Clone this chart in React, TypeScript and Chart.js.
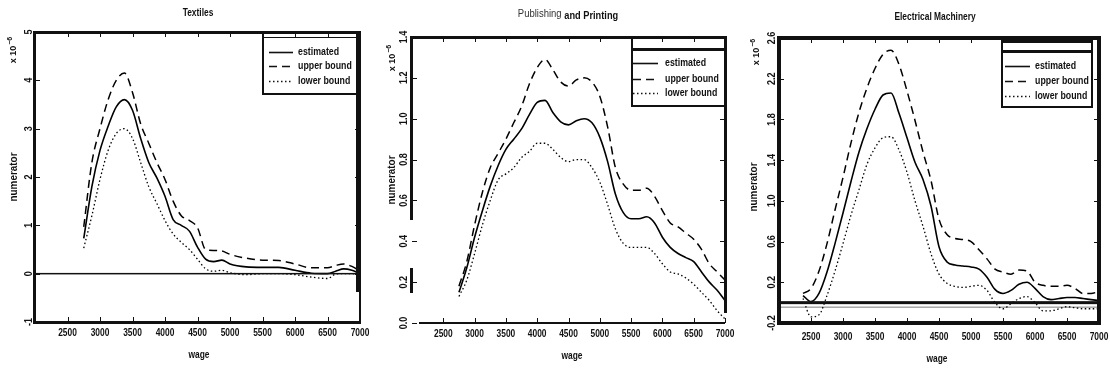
import React, { useEffect, useRef } from "react";
import { Chart, registerables } from "chart.js";

Chart.register(...registerables);

// ---------------- DATA ----------------
// Textiles
const texWage = [2750, 2875, 3000, 3125, 3250, 3375, 3500, 3625, 3750, 3875, 4000, 4125, 4250, 4375, 4500, 4625, 4750, 4875, 5000, 5250, 5500, 5750, 6000, 6250, 6500, 6625, 6750, 6875, 7000];
const texEstimated = [0.73, 1.8, 2.55, 3.05, 3.45, 3.6, 3.38, 2.8, 2.3, 1.98, 1.6, 1.12, 1.0, 0.88, 0.55, 0.3, 0.25, 0.28, 0.2, 0.14, 0.13, 0.13, 0.07, 0.01, 0.0, 0.05, 0.1, 0.07, 0.0];
const texUpper = [0.97, 2.3, 3.0, 3.6, 4.0, 4.15, 3.75, 3.1, 2.7, 2.3, 1.95, 1.5, 1.2, 1.1, 0.95, 0.5, 0.48, 0.47, 0.4, 0.32, 0.28, 0.27, 0.2, 0.12, 0.12, 0.17, 0.2, 0.15, 0.05];
const texLower = [0.53, 1.2, 1.95, 2.55, 2.9, 3.0, 2.8, 2.3, 1.8, 1.45, 1.1, 0.82, 0.65, 0.5, 0.3, 0.1, 0.05, 0.07, 0.02, -0.02, 0.0, 0.0, -0.02, -0.07, -0.1, -0.01, 0.0, 0.0, -0.03];

// Publishing and Printing
const pubWage = [2750, 2875, 3000, 3125, 3250, 3375, 3500, 3625, 3750, 3875, 4000, 4125, 4250, 4375, 4500, 4625, 4750, 4875, 5000, 5125, 5250, 5375, 5500, 5625, 5750, 5875, 6000, 6125, 6250, 6375, 6500, 6625, 6750, 6875, 7000];
const pubEstimated = [0.15, 0.27, 0.42, 0.55, 0.67, 0.77, 0.85, 0.9, 0.95, 1.02, 1.08, 1.09, 1.03, 0.985, 0.97, 0.99, 1.0, 0.98, 0.91, 0.79, 0.63, 0.54, 0.51, 0.51, 0.52, 0.49, 0.42, 0.37, 0.34, 0.32, 0.3, 0.25, 0.2, 0.16, 0.11];
const pubUpper = [0.18, 0.3, 0.48, 0.64, 0.76, 0.83, 0.9, 0.98, 1.06, 1.17, 1.25, 1.29, 1.24, 1.18, 1.16, 1.19, 1.2, 1.18, 1.11, 0.96, 0.76, 0.68, 0.65, 0.65, 0.66, 0.62, 0.55, 0.49, 0.47, 0.44, 0.41, 0.36, 0.29, 0.25, 0.21];
const pubLower = [0.13, 0.21, 0.34, 0.48, 0.6, 0.7, 0.73, 0.76, 0.81, 0.84, 0.88, 0.88, 0.85, 0.81, 0.79, 0.8, 0.8, 0.76, 0.69, 0.58, 0.46, 0.39, 0.37, 0.37, 0.37, 0.34, 0.29, 0.25, 0.24, 0.22, 0.19, 0.15, 0.11, 0.06, 0.02];

// Electrical Machinery
const elecWage = [2375, 2500, 2625, 2750, 2875, 3000, 3125, 3250, 3375, 3500, 3625, 3750, 3875, 4000, 4125, 4250, 4375, 4500, 4625, 4750, 4875, 5000, 5125, 5250, 5375, 5500, 5625, 5750, 5875, 6000, 6125, 6250, 6375, 6500, 6625, 6750, 6875, 7000];
const elecEstimated = [0.07, 0.01, 0.09, 0.3, 0.58, 0.88, 1.19, 1.48, 1.71, 1.9, 2.04, 2.06, 1.86, 1.62, 1.38, 1.21, 0.95, 0.55, 0.4, 0.37, 0.36, 0.35, 0.33, 0.25, 0.13, 0.09, 0.12, 0.18, 0.2, 0.14, 0.06, 0.03, 0.04, 0.05, 0.05, 0.04, 0.03, 0.02];
const elecUpper = [0.09, 0.14, 0.31, 0.58, 0.91, 1.23, 1.57, 1.87, 2.11, 2.3, 2.44, 2.48, 2.34, 2.08, 1.79, 1.48, 1.2, 0.82, 0.67, 0.63, 0.62, 0.6, 0.52, 0.43, 0.33, 0.3, 0.28, 0.32, 0.31, 0.2, 0.17, 0.16, 0.16, 0.17, 0.14, 0.09, 0.09, 0.11];
const elecLower = [0.04, -0.14, -0.12, 0.07, 0.31, 0.58, 0.86, 1.11, 1.36, 1.52, 1.62, 1.63, 1.5, 1.28, 1.0, 0.75, 0.48, 0.28, 0.19, 0.16, 0.15, 0.16, 0.17, 0.12, 0.0, -0.06, -0.01, 0.04, 0.06, 0.0, -0.08, -0.08, -0.06, -0.04, -0.05, -0.06, -0.06, -0.06];

// Ticks and labels
const wageTicks = [2500, 3000, 3500, 4000, 4500, 5000, 5500, 6000, 6500, 7000];
const texYTicks = [-1, 0, 1, 2, 3, 4, 5];
const texYTickLabels = ["-1", "0", "1", "2", "3", "4", "5"];
const pubYTicks = [0, 0.2, 0.4, 0.6, 0.8, 1.0, 1.2, 1.4];
const pubYTickLabels = ["0.0", "0.2", "0.4", "0.6", "0.8", "1.0", "1.2", "1.4"];
const elecYTicks = [-0.2, 0.2, 0.6, 1.0, 1.4, 1.8, 2.2, 2.6];
const elecYTickLabels = ["-0.2", "0.2", "0.6", "1.0", "1.4", "1.8", "2.2", "2.6"];
const legendLabels = ["estimated", "upper bound", "lower bound"];
const xAxisTitle = "wage";
const yAxisTitle = "numerator";
const exponentBase = "x 10";
const exponentPower = "\u22126";

// ---------------- STYLE ----------------
const FF = "'Liberation Sans', Arial, sans-serif";
const SQUEEZE = 0.84;
const INK = "#111";
const SERIES_STYLE = [
  { width: 1.6, dash: [] as number[] },
  { width: 1.5, dash: [8, 5] },
  { width: 1.3, dash: [1.5, 2.5] },
];

type Area = { l: number; r: number; t: number; b: number };
type Layout = {
  area: Area;
  titleX: number;
  titleY: number;
  yTickX: number;
  xTickY: number;
  wageX: number;
  wageY: number;
  numX: number;
  numY: number;
  expX: number;
  expY: number;
  legend: {
    x0: number; x1: number; y0: number; y1: number; boxTop: number; topW: number;
    stripTopW: number; rightW: number; rows: number[]; sx0: number; sx1: number; tx: number;
  };
  zero: number;
  zeroShadow: boolean;
  frame: (ctx: CanvasRenderingContext2D, ca: any) => void;
};

type Panel = {
  id: string;
  title: string[];
  wage: number[];
  series: number[][];
  yMin: number;
  yMax: number;
  yTicks: number[];
  yTickLabels: string[];
  layout: Layout;
};

const PANELS: Panel[] = [
  {
    id: "tex",
    title: ["Textiles"],
    wage: texWage,
    series: [texEstimated, texUpper, texLower],
    yMin: -1,
    yMax: 5,
    yTicks: texYTicks,
    yTickLabels: texYTickLabels,
    layout: {
      area: { l: 35, r: 360, t: 32, b: 322 },
      titleX: 198, titleY: 13,
      yTickX: 29, xTickY: 333,
      wageX: 199, wageY: 355,
      numX: 14, numY: 177,
      expX: 14, expY: 50,
      legend: { x0: 263, x1: 360, y0: 32, y1: 95, boxTop: 37, topW: 1, stripTopW: 0, rightW: 0, rows: [52, 66, 81], sx0: 269, sx1: 293, tx: 298 },
      zero: 1.5,
      zeroShadow: false,
      frame: (ctx, ca) => {
        const w = ca.right - ca.left, h = ca.bottom - ca.top;
        ctx.fillRect(ca.left - 1, ca.top - 1, w + 2, 3);
        ctx.fillRect(ca.left - 2, ca.top - 1, 3, h + 3);
        ctx.fillRect(ca.left - 2, ca.bottom - 1, w + 3, 3);
        ctx.fillRect(ca.right - 1, ca.top - 1, 2, h + 2);
        ctx.fillRect(ca.right - 4, ca.top - 1, 5, h * 0.9);
      },
    },
  },
  {
    id: "pub",
    title: ["Publishing", "and Printing"],
    wage: pubWage,
    series: [pubEstimated, pubUpper, pubLower],
    yMin: 0,
    yMax: 1.4,
    yTicks: pubYTicks,
    yTickLabels: pubYTickLabels,
    layout: {
      area: { l: 42, r: 355, t: 37, b: 323 },
      titleX: 198, titleY: 15,
      yTickX: 34, xTickY: 334,
      wageX: 202, wageY: 356,
      numX: 22, numY: 180,
      expX: 23, expY: 58,
      legend: { x0: 262, x1: 355, y0: 37, y1: 107, boxTop: 48, topW: 3, stripTopW: 0, rightW: 0, rows: [63, 79, 93], sx0: 263, sx1: 288, tx: 295 },
      zero: 0,
      zeroShadow: false,
      frame: (ctx, ca) => {
        const w = ca.right - ca.left;
        ctx.fillRect(ca.left - 1, ca.top - 1, w + 3, 3);
        ctx.fillRect(ca.left - 2, ca.top - 1, 3, 184);
        ctx.fillRect(ca.left - 2, ca.top + 231, 3, 25);
        ctx.fillRect(ca.right - 1, ca.top - 1, 3, 277);
        ctx.fillRect(ca.left + 7, ca.bottom - 1, w - 7, 2);
      },
    },
  },
  {
    id: "elec",
    title: ["Electrical Machinery"],
    wage: elecWage,
    series: [elecEstimated, elecUpper, elecLower],
    yMin: -0.2,
    yMax: 2.6,
    yTicks: elecYTicks,
    yTickLabels: elecYTickLabels,
    layout: {
      area: { l: 39, r: 359, t: 38, b: 323 },
      titleX: 195, titleY: 17,
      yTickX: 32, xTickY: 337,
      wageX: 197, wageY: 359,
      numX: 14, numY: 187,
      expX: 17, expY: 52,
      legend: { x0: 262, x1: 353, y0: 40, y1: 108, boxTop: 50, topW: 3, stripTopW: 3, rightW: 2, rows: [66, 81, 96], sx0: 265, sx1: 290, tx: 295 },
      zero: 3,
      zeroShadow: true,
      frame: (ctx, ca) => {
        const w = ca.right - ca.left, h = ca.bottom - ca.top;
        ctx.fillRect(ca.left - 2, ca.top - 2, w + 4, 4);
        ctx.fillRect(ca.left - 2, ca.top - 2, 4, h + 4);
        ctx.fillRect(ca.right - 2, ca.top - 2, 4, h + 4);
        ctx.fillRect(ca.left - 2, ca.bottom - 2, w + 4, 4);
      },
    },
  },
];

// draws condensed text: horizontal squeeze (along the text direction)
function text(
  ctx: CanvasRenderingContext2D,
  s: string,
  x: number,
  y: number,
  align: CanvasTextAlign,
  rotated = false,
  squeeze = SQUEEZE
) {
  ctx.save();
  ctx.translate(x, y);
  if (rotated) ctx.rotate(-Math.PI / 2);
  ctx.scale(squeeze, 1);
  ctx.textAlign = align;
  ctx.textBaseline = "middle";
  ctx.fillText(s, 0, 0);
  ctx.restore();
}

function drawDeco(chart: any, p: Panel) {
  const ctx: CanvasRenderingContext2D = chart.ctx;
  const ca = chart.chartArea;
  const xs = chart.scales.x;
  const ys = chart.scales.y;
  const L = p.layout;
  const lg = L.legend;
  ctx.save();
  ctx.fillStyle = INK;
  ctx.strokeStyle = INK;

  // zero line
  if (L.zero > 0) {
    const y0 = ys.getPixelForValue(0);
    ctx.fillRect(ca.left, y0 - L.zero / 2, ca.right - ca.left, L.zero);
    if (L.zeroShadow) {
      ctx.globalAlpha = 0.55;
      ctx.fillRect(ca.left, y0 + 4, ca.right - ca.left, 1);
      ctx.globalAlpha = 1;
    }
  }

  // inward tick marks
  ctx.lineWidth = 1;
  ctx.beginPath();
  for (const v of wageTicks) {
    const px = Math.round(xs.getPixelForValue(v)) + 0.5;
    ctx.moveTo(px, ca.bottom);
    ctx.lineTo(px, ca.bottom - 5);
    ctx.moveTo(px, ca.top);
    ctx.lineTo(px, ca.top + 5);
  }
  for (const v of p.yTicks) {
    const py = Math.round(ys.getPixelForValue(v)) + 0.5;
    ctx.moveTo(ca.left, py);
    ctx.lineTo(ca.left + 5, py);
    ctx.moveTo(ca.right, py);
    ctx.lineTo(ca.right - 5, py);
  }
  ctx.stroke();

  // legend box
  ctx.fillStyle = "#fff";
  ctx.fillRect(lg.x0, lg.boxTop, lg.x1 - lg.x0, lg.y1 - lg.boxTop);
  ctx.fillStyle = INK;
  ctx.fillRect(lg.x0 - 1, lg.y0, 2, lg.y1 - lg.y0);
  ctx.fillRect(lg.x0 - 1, lg.y1 - 2, lg.x1 - lg.x0 + 1, 2);
  ctx.fillRect(lg.x0 - 1, lg.boxTop, lg.x1 - lg.x0 + 1, lg.topW);
  if (lg.stripTopW) ctx.fillRect(lg.x0 - 1, lg.y0, lg.x1 - lg.x0 + 1, lg.stripTopW);
  if (lg.rightW) ctx.fillRect(lg.x1 - lg.rightW, lg.y0, lg.rightW, lg.y1 - lg.y0);

  ctx.font = `bold 10px ${FF}`;
  legendLabels.forEach((label, i) => {
    const st = SERIES_STYLE[i];
    const ry = lg.rows[i] + 0.5;
    ctx.save();
    ctx.lineWidth = st.width;
    ctx.setLineDash(st.dash);
    ctx.beginPath();
    ctx.moveTo(lg.sx0, ry);
    ctx.lineTo(lg.sx1, ry);
    ctx.stroke();
    ctx.restore();
    text(ctx, label, lg.tx, lg.rows[i], "left", false, 0.88);
  });

  // frame
  L.frame(ctx, ca);

  // title
  if (p.title.length === 1) {
    ctx.font = `bold 10px ${FF}`;
    text(ctx, p.title[0], L.titleX, L.titleY, "center");
  } else {
    const f1 = `10px ${FF}`;
    const f2 = `bold 11px ${FF}`;
    ctx.font = f1;
    const w1 = ctx.measureText(p.title[0] + " ").width * 0.95;
    ctx.font = f2;
    const w2 = ctx.measureText(p.title[1]).width * SQUEEZE;
    const x0 = L.titleX - (w1 + w2) / 2;
    ctx.font = f1;
    ctx.fillStyle = "#333";
    text(ctx, p.title[0], x0, L.titleY - 1, "left", false, 0.95);
    ctx.fillStyle = INK;
    ctx.font = f2;
    text(ctx, p.title[1], x0 + w1, L.titleY + 1, "left");
  }

  // x tick labels
  ctx.font = `bold 10px ${FF}`;
  for (const v of wageTicks) {
    text(ctx, String(v), xs.getPixelForValue(v), L.xTickY, "center");
  }
  // x title
  text(ctx, xAxisTitle, L.wageX, L.wageY, "center");

  // y tick labels (rotated)
  ctx.font = `bold 10px ${FF}`;
  p.yTicks.forEach((v, i) => {
    text(ctx, p.yTickLabels[i], L.yTickX, ys.getPixelForValue(v), "center", true, 0.9);
  });
  // y title
  ctx.font = `bold 11px ${FF}`;
  text(ctx, yAxisTitle, L.numX, L.numY, "center", true, 0.9);

  // exponent label
  ctx.save();
  ctx.translate(L.expX, L.expY);
  ctx.rotate(-Math.PI / 2);
  ctx.textBaseline = "middle";
  ctx.textAlign = "left";
  const fb = `bold 9px ${FF}`;
  const fs = `bold 7px ${FF}`;
  ctx.font = fb;
  const wb = ctx.measureText(exponentBase).width;
  ctx.font = fs;
  const wp = ctx.measureText(exponentPower).width;
  const sx = -(wb + wp + 1) / 2;
  ctx.font = fb;
  ctx.fillText(exponentBase, sx, 0);
  ctx.font = fs;
  ctx.fillText(exponentPower, sx + wb + 1, -4);
  ctx.restore();

  ctx.restore();
}

function PanelChart({ panel, left }: { panel: Panel; left: number }) {
  const ref = useRef<HTMLCanvasElement | null>(null);
  useEffect(() => {
    if (!ref.current) return;
    const a = panel.layout.area;
    const datasets = panel.series.map((vals, i) => ({
      label: legendLabels[i],
      data: panel.wage.map((w, j) => ({ x: w, y: vals[j] })),
      borderColor: "#000",
      borderWidth: SERIES_STYLE[i].width,
      borderDash: SERIES_STYLE[i].dash,
      pointRadius: 0,
      fill: false,
      cubicInterpolationMode: "monotone" as const,
    }));
    const chart = new Chart(ref.current, {
      type: "line",
      data: { datasets },
      options: {
        animation: false,
        responsive: false,
        devicePixelRatio: 1,
        layout: { padding: { left: a.l, top: a.t, right: 370 - a.r, bottom: 370 - a.b } },
        scales: {
          x: { type: "linear", min: 2000, max: 7000, display: false },
          y: { type: "linear", min: panel.yMin, max: panel.yMax, display: false },
        },
        plugins: {
          legend: { display: false },
          tooltip: { enabled: false },
          title: { display: false },
        },
      },
      plugins: [{ id: "deco" + panel.id, afterDraw: (c: any) => drawDeco(c, panel) }],
    } as any);
    return () => chart.destroy();
  }, [panel]);
  return (
    <canvas
      ref={ref}
      width={370}
      height={370}
      style={{ position: "absolute", left, top: 0, width: 370, height: 370, display: "block" }}
    />
  );
}

export default function App() {
  return (
    <div style={{ position: "fixed", left: 0, top: 0, width: 1110, height: 370, background: "#fff", overflow: "hidden" }}>
      {PANELS.map((p, i) => (
        <PanelChart key={p.id} panel={p} left={i * 370} />
      ))}
    </div>
  );
}
